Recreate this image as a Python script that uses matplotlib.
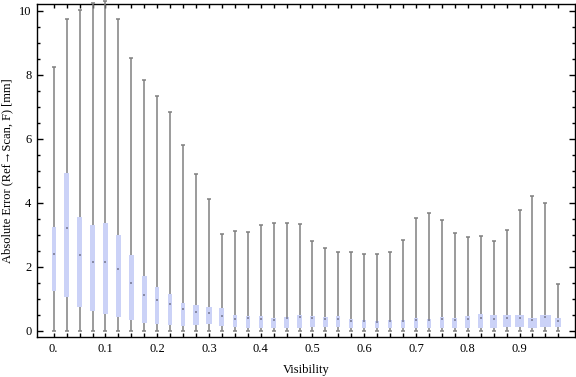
import numpy as np
import matplotlib
matplotlib.use('Agg')
import matplotlib.pyplot as plt
from matplotlib.ticker import MultipleLocator, FixedLocator

plt.rcParams['font.family'] = ['Liberation Serif', 'DejaVu Serif']

# visibility bins
visibility = [0.000, 0.025, 0.050, 0.075, 0.100, 0.125, 0.150, 0.175, 0.200, 0.225,
              0.250, 0.275, 0.300, 0.325, 0.350, 0.375, 0.400, 0.425, 0.450, 0.475,
              0.500, 0.525, 0.550, 0.575, 0.600, 0.625, 0.650, 0.675, 0.700, 0.725,
              0.750, 0.775, 0.800, 0.825, 0.850, 0.875, 0.900, 0.925, 0.950, 0.975]

# box-whisker stats (mm)
err_max = [8.23, 9.73, 10.01, 10.23, 10.30, 9.73, 8.52, 7.83, 7.33, 6.83,
           5.81, 4.89, 4.11, 3.02, 3.11, 3.08, 3.30, 3.36, 3.36, 3.33,
           2.80, 2.58, 2.45, 2.45, 2.39, 2.39, 2.45, 2.83, 3.52, 3.67,
           3.45, 3.05, 2.92, 2.95, 2.80, 3.14, 3.77, 4.20, 3.98, 1.45]
err_q3 = [3.25, 4.92, 3.55, 3.30, 3.37, 3.00, 2.36, 1.72, 1.37, 1.14,
          0.87, 0.81, 0.75, 0.71, 0.49, 0.46, 0.46, 0.40, 0.43, 0.49,
          0.46, 0.43, 0.46, 0.37, 0.34, 0.31, 0.34, 0.34, 0.40, 0.37,
          0.43, 0.40, 0.46, 0.53, 0.49, 0.49, 0.49, 0.40, 0.49, 0.40]
err_median = [2.39, 3.20, 2.37, 2.16, 2.15, 1.94, 1.50, 1.13, 0.95, 0.84,
              0.68, 0.59, 0.55, 0.48, 0.37, 0.39, 0.38, 0.34, 0.40, 0.45,
              0.39, 0.36, 0.36, 0.31, 0.31, 0.28, 0.31, 0.31, 0.34, 0.34,
              0.37, 0.34, 0.36, 0.39, 0.36, 0.39, 0.41, 0.34, 0.42, 0.31]
err_q1 = [1.24, 1.07, 0.74, 0.63, 0.53, 0.43, 0.34, 0.25, 0.21, 0.18,
          0.16, 0.18, 0.21, 0.15, 0.12, 0.09, 0.09, 0.09, 0.09, 0.09,
          0.13, 0.13, 0.13, 0.10, 0.10, 0.10, 0.10, 0.10, 0.10, 0.10,
          0.10, 0.10, 0.10, 0.10, 0.10, 0.13, 0.13, 0.10, 0.13, 0.13]
err_min = [0.0, 0.0, 0.0, 0.0, 0.0, 0.0, 0.0, 0.0, 0.0, 0.0,
           0.0, 0.0, 0.0, 0.0, 0.0, 0.0, 0.0, 0.0, 0.0, 0.0,
           0.0, 0.0, 0.0, 0.0, 0.0, 0.0, 0.0, 0.0, 0.0, 0.0,
           0.0, 0.0, 0.0, 0.0, 0.0, 0.0, 0.0, 0.0, 0.0, 0.0]

# box widths in pixels (they vary in the original)
box_px = [4, 5, 5, 5, 5, 5, 5, 5, 4, 4, 4, 6, 6, 5, 4.3, 4.3, 4.3, 5, 5, 5,
          5, 5, 4, 4, 4, 4, 4, 4, 4, 4, 4, 5, 5, 5, 7, 8, 9, 9, 11, 6]

xlim = (-0.0323, 1.0072)
ylim = (-0.19, 10.21)

fig = plt.figure(figsize=(5.76, 3.77), dpi=100)
ax = fig.add_axes([37/576, 40/377, 538/576, 333/377])
ax.set_xlim(*xlim)
ax.set_ylim(*ylim)

px_per_unit = 538 / (xlim[1] - xlim[0])
widths = np.array(box_px) / px_per_unit

x = np.array(visibility)
box_col = '#cbd2f7'
wcol = '#808080'

ax.bar(x, np.array(err_q3) - np.array(err_q1), bottom=err_q1, width=widths,
       color=box_col, linewidth=0, zorder=2)
ax.vlines(x, err_min, err_q1, color=wcol, lw=1.1, zorder=3, clip_on=False)
ax.vlines(x, err_q3, err_max, color=wcol, lw=1.1, zorder=3, clip_on=False)
ax.plot(x, err_max, ls='none', marker='_', ms=3.5, mew=1.1, color=wcol, zorder=3, clip_on=False)
ax.plot(x, err_min, ls='none', marker='_', ms=3.5, mew=1.1, color=wcol, zorder=3, clip_on=False)
ax.plot(x, err_median, ls='none', marker='s', ms=1.8, mew=0, color='#888ba6', zorder=4)

# ticks
ax.xaxis.set_major_locator(FixedLocator([0.0, 0.1, 0.2, 0.3, 0.4, 0.5, 0.6, 0.7, 0.8, 0.9]))
ax.set_xticklabels(['0.', '0.1', '0.2', '0.3', '0.4', '0.5', '0.6', '0.7', '0.8', '0.9'])
ax.xaxis.set_minor_locator(FixedLocator(visibility))
ax.yaxis.set_major_locator(MultipleLocator(2))
ax.yaxis.set_minor_locator(MultipleLocator(0.5))
ax.tick_params(which='both', direction='in', top=True, right=True, width=1, labelsize=9)
ax.tick_params(axis='x', which='both', length=3, pad=4)
ax.tick_params(axis='y', which='major', length=4, pad=4)
ax.tick_params(axis='y', which='minor', length=2.5)
for s in ax.spines.values():
    s.set_linewidth(1)

ax.set_xlabel('Visibility', fontsize=9, labelpad=7)
ax.set_ylabel('Absolute Error (Ref→Scan, F) [mm]', fontsize=9, labelpad=4)

fig.savefig('out.png', dpi=100)
